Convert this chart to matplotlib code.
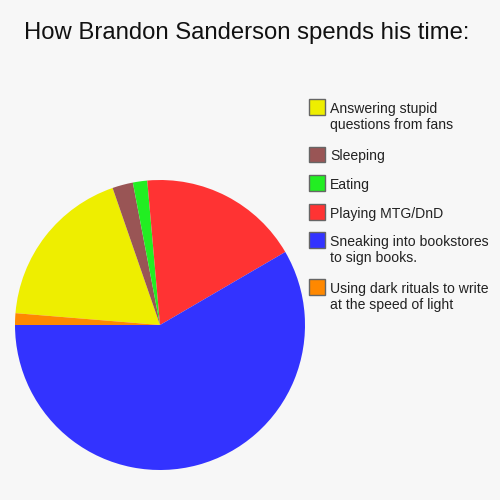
import matplotlib
matplotlib.use("Agg")
import matplotlib.pyplot as plt
from matplotlib.patches import Rectangle

plt.rcParams['font.family'] = ['Liberation Sans', 'DejaVu Sans']

title = "How Brandon Sanderson spends his time:"
labels = [
    "Answering stupid\nquestions from fans",
    "Sleeping",
    "Eating",
    "Playing MTG/DnD",
    "Sneaking into bookstores\nto sign books.",
    "Using dark rituals to write\nat the speed of light",
]
values = [18.4, 2.3, 1.6, 18.0, 58.4, 1.3]
colors = ["#EEEE00", "#995555", "#22EE22", "#FF3333", "#3333FF", "#FF8800"]

BG = "#F7F7F7"
W = 500.0
fig = plt.figure(figsize=(5, 5), dpi=100, facecolor=BG)

ax = fig.add_axes([15/W, 30/W, 290/W, 290/W])
ax.set_facecolor(BG)
start = 180 - values[-1] / sum(values) * 360
ax.pie(values, colors=colors, startangle=start, counterclock=False,
       radius=1, wedgeprops=dict(linewidth=0))
ax.set_xlim(-1, 1)
ax.set_ylim(-1, 1)
ax.set_aspect('equal')
ax.axis('off')

fig.text(247/W, 1 - 39/W, title, ha='center', va='baseline', fontsize=17.2, color='#111111')

# legend
sq_tops = [99.5, 146.5, 175.3, 204.3, 232.3, 279]
for lab, col, top in zip(labels, colors, sq_tops):
    fig.patches.append(Rectangle((309/W, 1 - (top + 15.5)/W), 15.5/W, 15.5/W,
                                 transform=fig.transFigure, facecolor=col,
                                 edgecolor='#666666', linewidth=1))
    for i, line in enumerate(lab.split("\n")):
        fig.text(330/W, 1 - (top + 13.8 + 16 * i)/W, line, ha='left', va='baseline',
                 fontsize=10.05, color='#222222')

fig.savefig("out.png", dpi=100, facecolor=BG)
